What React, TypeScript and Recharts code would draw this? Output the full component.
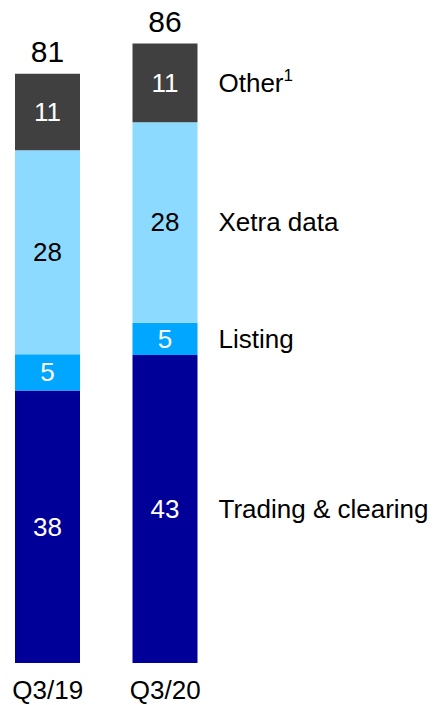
import React from 'react';
import { BarChart, Bar, XAxis, YAxis, LabelList } from 'recharts';

const categories = ['Q3/19', 'Q3/20'];
const tradingClearing = [37.8, 42.7];
const listing = [5.0, 4.5];
const xetraData = [28.3, 27.8];
const other = [10.6, 10.9];
const totals = [81, 86];

const FONT = '"Liberation Sans", Arial, sans-serif';

const series = [
  { key: 'trading', name: 'Trading & clearing', values: tradingClearing, color: '#000099', text: '#ffffff' },
  { key: 'listing', name: 'Listing', values: listing, color: '#00A6FF', text: '#ffffff' },
  { key: 'xetra', name: 'Xetra data', values: xetraData, color: '#8CDAFF', text: '#000000' },
  { key: 'other', name: 'Other', sup: '1', values: other, color: '#404040', text: '#ffffff' },
];

const data = categories.map((category, i) => ({
  category,
  trading: tradingClearing[i],
  listing: listing[i],
  xetra: xetraData[i],
  other: other[i],
}));

const lastIndex = categories.length - 1;

const makeSegmentLabel = (s: typeof series[number]) => (props: any) => {
  const { x, y, width, height, index } = props;
  const cy = y + height / 2;
  return (
    <g>
      <text
        x={x + width / 2}
        y={cy}
        textAnchor="middle"
        dominantBaseline="central"
        fill={s.text}
        fontSize={26}
        fontFamily={FONT}
      >
        {Math.round(s.values[index])}
      </text>
      {index === lastIndex && (
        <text x={x + width + 21} y={cy} dominantBaseline="central" fill="#000" fontSize={26} fontFamily={FONT}>
          {s.name}
          {s.sup && (
            <tspan fontSize={17} dy={-8}>
              {s.sup}
            </tspan>
          )}
        </text>
      )}
    </g>
  );
};

const TotalLabel = (props: any) => {
  const { x, y, width, index } = props;
  return (
    <text x={x + width / 2} y={y - 12} textAnchor="middle" fill="#000" fontSize={30} fontFamily={FONT}>
      {totals[index]}
    </text>
  );
};

const CategoryTick = (props: any) => {
  const { x, y, payload } = props;
  return (
    <text x={x} y={y + 36} textAnchor="middle" fill="#000" fontSize={26} fontFamily={FONT}>
      {payload.value}
    </text>
  );
};

export default function App() {
  return (
    <div style={{ position: 'absolute', left: -11, top: 0, background: '#fff' }}>
      <BarChart width={448} height={705} data={data} margin={{ top: 14, right: 213, bottom: 0, left: 0 }}>
        <XAxis
          dataKey="category"
          axisLine={false}
          tickLine={false}
          tickSize={0}
          tickMargin={0}
          height={42}
          tick={<CategoryTick />}
          interval={0}
        />
        <YAxis hide domain={[0, 90]} />
        {series.map((s) => (
          <Bar key={s.key} dataKey={s.key} stackId="a" fill={s.color} barSize={65} isAnimationActive={false}>
            <LabelList dataKey={s.key} content={makeSegmentLabel(s)} />
            {s.key === 'other' && <LabelList dataKey={s.key} content={TotalLabel} />}
          </Bar>
        ))}
      </BarChart>
    </div>
  );
}
